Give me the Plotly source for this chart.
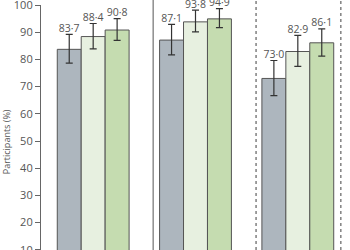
import plotly.graph_objects as go

# Three study groups, three bars each (percent of participants, 95% CI)
group_pos = [0, 1, 2]
series_names = ["Series A", "Series B", "Series C"]
series_colors = ["#adb6be", "#e7f0e0", "#c5dcb0"]

values_a = [83.7, 87.1, 73.0]
upper_a = [89.2, 92.9, 79.6]
lower_a = [78.6, 81.7, 66.7]

values_b = [88.4, 93.8, 82.9]
upper_b = [93.2, 98.1, 88.8]
lower_b = [83.9, 90.1, 77.4]

values_c = [90.8, 94.9, 86.1]
upper_c = [95.0, 98.7, 91.2]
lower_c = [87.0, 91.7, 81.2]

y_ticks = [10, 20, 30, 40, 50, 60, 70, 80, 90, 100]

series = [
    (values_a, upper_a, lower_a),
    (values_b, upper_b, lower_b),
    (values_c, upper_c, lower_c),
]

bar_w = 0.234
offsets = [-bar_w, 0.0, bar_w]
text_color = "#555555"
font_family = "Open Sans, Noto Sans, sans-serif"


def fmt(v):
    return f"{v:.1f}".replace(".", "\u00b7")


fig = go.Figure()
for (vals, up, lo), off, col, name in zip(series, offsets, series_colors, series_names):
    xs = [g + off for g in group_pos]
    fig.add_trace(go.Bar(
        x=xs, y=vals, width=bar_w, name=name,
        marker=dict(color=col, line=dict(color="#555555", width=1)),
        error_y=dict(
            type="data", symmetric=False,
            array=[u - v for u, v in zip(up, vals)],
            arrayminus=[v - l for v, l in zip(vals, lo)],
            color="#333333", thickness=1.2, width=3.5,
        ),
        showlegend=False,
    ))
    fig.add_trace(go.Scatter(
        x=xs, y=up, mode="text",
        text=[fmt(v) for v in vals],
        textposition="top center",
        textfont=dict(size=10.5, color=text_color, family=font_family),
        cliponaxis=False,
        showlegend=False, hoverinfo="skip",
    ))

# Panel separators
fig.add_shape(type="line", xref="x", yref="paper", x0=0.586, x1=0.586, y0=0, y1=1.03,
              line=dict(color="#555555", width=1))
for xp in [1.592, 2.42]:
    fig.add_shape(type="line", xref="x", yref="paper", x0=xp, x1=xp, y0=0, y1=1.03,
                  line=dict(color="#888888", width=1.6, dash="dot"))

fig.add_annotation(
    text="Participants (%)", xref="paper", yref="paper",
    x=-0.113, y=0.44, textangle=-90, showarrow=False,
    xanchor="center", yanchor="middle",
    font=dict(size=9, color=text_color, family=font_family),
)

fig.update_layout(
    width=350, height=250,
    margin=dict(l=41, r=0, t=5, b=0, autoexpand=False),
    paper_bgcolor="white", plot_bgcolor="white",
    barmode="overlay",
    font=dict(family=font_family, color=text_color),
    xaxis=dict(range=[-0.51, 2.51], visible=False, showgrid=False,
               zeroline=False, automargin=False),
    yaxis=dict(
        range=[9.93, 100], tickvals=y_ticks, ticks="outside", ticklen=5,
        tickcolor="#666666", showline=True, linecolor="#666666", linewidth=1.2,
        showgrid=False, zeroline=False, ticklabeloverflow="allow",
        automargin=False,
        tickfont=dict(size=11, color=text_color, family=font_family),
    ),
)

fig.write_html("out.html")
